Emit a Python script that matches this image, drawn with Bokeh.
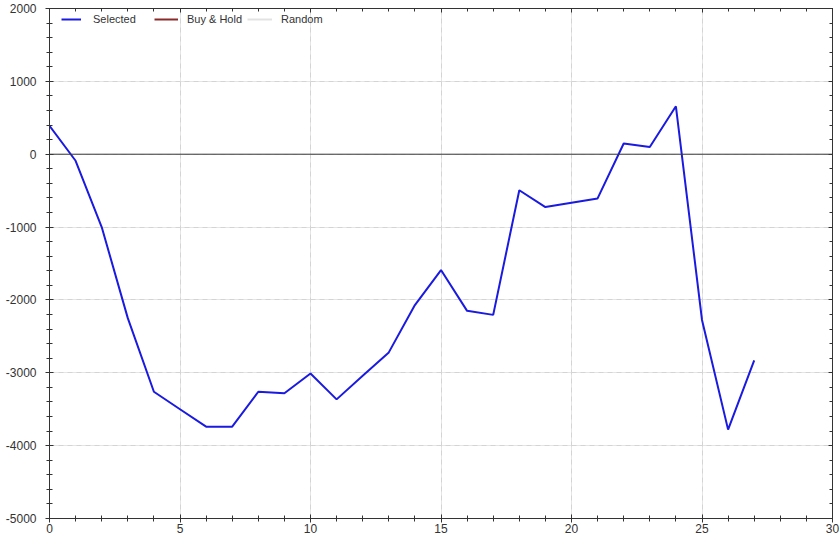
from bokeh.plotting import figure
from bokeh.models import (Range1d, LinearAxis, Span, Legend, LegendItem,
                          FixedTicker, Grid, PrintfTickFormatter)
from bokeh.embed import file_html
from bokeh.resources import INLINE

# ---- data ----
periods = list(range(28))
selected = [390, -90, -1000, -2250, -3260, -3500, -3740, -3740, -3260, -3280,
            -3010, -3365, -3040, -2720, -2070, -1590, -2150, -2205, -495, -725,
            -665, -607, 147, 100, 658, -2275, -3780, -2830]
legend_x = [float("nan")]          # Buy & Hold / Random: legend entries only
buy_hold = [float("nan")]
random_ = [float("nan")]

x_major = [0, 5, 10, 15, 20, 25, 30]
x_minor = list(range(0, 31))
y_major = [-5000, -4000, -3000, -2000, -1000, 0, 1000, 2000]
y_minor = list(range(-5000, 2001, 200))

FONT = "Liberation Sans"

p = figure(width=840, height=542, output_backend="svg", toolbar_location=None,
           x_range=Range1d(0, 30), y_range=Range1d(-5000, 2000),
           min_border_left=49, min_border_right=8, min_border_top=8,
           min_border_bottom=24, x_axis_location=None, y_axis_location=None)
p.outline_line_color = "#333333"
p.outline_line_width = 1
p.background_fill_color = "white"

def style_axis(ax, labels, tin, tout, mtin, mtout, ticker):
    ax.ticker = ticker
    ax.axis_line_color = "#333333"
    ax.major_tick_line_color = "#333333"
    ax.minor_tick_line_color = "#333333"
    ax.major_tick_in = tin
    ax.major_tick_out = tout
    ax.minor_tick_in = mtin
    ax.minor_tick_out = mtout
    ax.major_label_text_font = FONT
    ax.major_label_text_font_size = "12px"
    ax.major_label_text_color = "#333333"
    ax.formatter = PrintfTickFormatter(format="%d")
    if not labels:
        ax.major_label_text_font_size = "0px"
        ax.major_label_text_alpha = 0
        ax.major_label_standoff = 0

xt = FixedTicker(ticks=x_major, minor_ticks=x_minor)
yt = FixedTicker(ticks=y_major, minor_ticks=y_minor)

bottom = LinearAxis()
style_axis(bottom, True, 4, 4, 3, 3, xt)
bottom.major_label_standoff = 1
left = LinearAxis()
style_axis(left, True, 4, 4, 3, 3, yt)
left.major_label_standoff = 9
top = LinearAxis()
style_axis(top, False, 4, 0, 3, 0, FixedTicker(ticks=x_major, minor_ticks=x_minor))
right = LinearAxis()
style_axis(right, False, 4, 0, 3, 0, FixedTicker(ticks=y_major, minor_ticks=y_minor))

p.add_layout(bottom, "below")
p.add_layout(left, "left")
p.add_layout(top, "above")
p.add_layout(right, "right")

gx = Grid(dimension=0, ticker=xt, grid_line_color="#d4d4d4", grid_line_dash="5 4")
gy = Grid(dimension=1, ticker=yt, grid_line_color="#d4d4d4", grid_line_dash="5 4")
p.add_layout(gx)
p.add_layout(gy)

p.add_layout(Span(location=0, dimension="width", line_color="#3a3a3a", line_width=1))

r_sel = p.line(periods, selected, line_color="#1a1ae0", line_width=2)
r_bh = p.line(legend_x, buy_hold, line_color="#8b2a2a", line_width=2)
r_rnd = p.line(legend_x, random_, line_color="#e2e2e2", line_width=2)

def make_legend(label, renderer, x, gw, standoff):
    return Legend(items=[LegendItem(label=label, renderers=[renderer])],
                  orientation="horizontal", location=(x, 493),
                  margin=0, padding=0, spacing=0,
                  glyph_width=gw, glyph_height=12, label_height=12,
                  label_standoff=standoff, label_text_font=FONT,
                  label_text_font_size="11px", label_text_color="#333333",
                  background_fill_alpha=0, border_line_alpha=0)

p.add_layout(make_legend("Selected", r_sel, 12, 20, 12))
p.add_layout(make_legend("Buy & Hold", r_bh, 105, 24, 9))
p.add_layout(make_legend("Random", r_rnd, 198, 25, 9))

open("out.html", "w").write(file_html(p, INLINE))
